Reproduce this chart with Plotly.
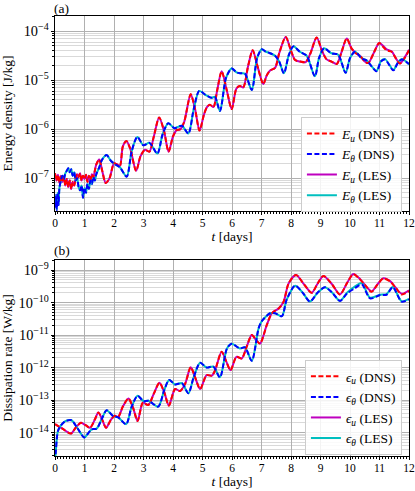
import numpy as np
import plotly.graph_objects as go

# Values, stored as log10 of the quantity
# (a) energy density [J/kg]
t_Eu = [0, 0.05, 0.1, 0.15, 0.2, 0.25, 0.3, 0.35, 0.4, 0.45, 0.5, 0.55, 0.6, 0.65, 0.7, 0.75, 0.8, 0.85, 0.9, 0.95,
        1.0, 1.05, 1.1, 1.15, 1.2, 1.25, 1.3, 1.35, 1.4, 1.5, 1.6, 1.72, 1.85, 2.0, 2.1, 2.2, 2.3, 2.42, 2.55, 2.75,
        2.9, 3.05, 3.2, 3.35, 3.53, 3.7, 3.85, 4.0, 4.12, 4.25, 4.38, 4.6, 4.75, 4.9, 5.05, 5.15, 5.25, 5.37, 5.5, 5.65,
        5.82, 5.99, 6.15, 6.27, 6.38, 6.55, 6.7, 6.88, 7.06, 7.18, 7.3, 7.46, 7.6, 7.82, 8.0, 8.14, 8.31, 8.5, 8.66, 8.87,
        9.05, 9.2, 9.37, 9.55, 9.7, 9.89, 10.05, 10.2, 10.34, 10.5, 10.62, 10.8, 10.99, 11.12, 11.24, 11.41, 11.55, 11.69,
        11.85, 12.0]
Eu_dns = [-6.90, -7.05, -6.93, -7.10, -6.95, -7.08, -6.97, -7.15, -7.02, -7.18, -7.05, -7.22, -7.08, -7.15, -7.00,
          -6.92, -6.98, -6.90, -7.05, -6.95, -7.02, -6.93, -7.08, -6.95, -7.05, -6.92, -6.98, -6.85, -6.72, -6.62,
          -6.85, -7.10, -7.00, -6.70, -6.72, -6.75, -6.35, -6.24, -6.40, -6.85, -6.55, -6.42, -6.46, -6.15, -5.76,
          -6.05, -6.46, -6.15, -6.02, -6.00, -5.85, -5.29, -5.60, -6.03, -5.70, -5.55, -5.50, -5.55, -5.20, -4.82,
          -5.20, -5.59, -5.17, -5.12, -5.15, -4.70, -4.39, -4.75, -5.08, -4.90, -4.80, -4.75, -4.45, -4.12, -4.40,
          -4.59, -4.62, -4.63, -4.45, -4.13, -4.40, -4.57, -4.62, -4.67, -4.45, -4.15, -4.35, -4.45, -4.50, -4.62,
          -4.65, -4.45, -4.24, -4.32, -4.39, -4.42, -4.55, -4.66, -4.55, -4.39]
Eu_les = [-6.90, -7.05, -6.93, -7.10, -6.95, -7.08, -6.97, -7.15, -7.02, -7.18, -7.05, -7.22, -7.08, -7.15, -7.00,
          -6.92, -6.98, -6.90, -7.05, -6.95, -7.02, -6.93, -7.08, -6.95, -7.05, -6.92, -6.98, -6.85, -6.72, -6.62,
          -6.85, -7.10, -7.00, -6.70, -6.72, -6.75, -6.35, -6.24, -6.40, -6.85, -6.55, -6.42, -6.46, -6.15, -5.76,
          -6.05, -6.46, -6.15, -6.02, -6.00, -5.85, -5.29, -5.60, -6.03, -5.70, -5.55, -5.50, -5.55, -5.20, -4.82,
          -5.20, -5.59, -5.17, -5.12, -5.15, -4.70, -4.39, -4.75, -5.08, -4.90, -4.80, -4.75, -4.45, -4.12, -4.40,
          -4.59, -4.62, -4.63, -4.45, -4.13, -4.40, -4.57, -4.62, -4.67, -4.45, -4.15, -4.35, -4.45, -4.50, -4.62,
          -4.65, -4.45, -4.24, -4.30, -4.37, -4.41, -4.55, -4.66, -4.54, -4.38]

t_Et = [0, 0.03, 0.06, 0.09, 0.12, 0.15, 0.2, 0.25, 0.3, 0.35, 0.4, 0.45, 0.5, 0.55, 0.6, 0.65, 0.7, 0.75, 0.8, 0.85,
        0.9, 0.95, 1.0, 1.05, 1.1, 1.15, 1.2, 1.25, 1.3, 1.35, 1.4, 1.5, 1.6, 1.75, 1.9, 2.05, 2.2, 2.43, 2.6, 2.79,
        3.0, 3.2, 3.47, 3.65, 3.84, 4.05, 4.3, 4.52, 4.7, 4.89, 5.1, 5.31, 5.42, 5.59, 5.8, 5.99, 6.15, 6.3, 6.44, 6.67,
        6.85, 7.01, 7.15, 7.29, 7.46, 7.6, 7.76, 7.92, 8.08, 8.3, 8.53, 8.81, 8.95, 9.12, 9.37, 9.6, 9.85, 10.0, 10.17,
        10.4, 10.57, 10.9, 11.05, 11.19, 11.47, 11.62, 11.76, 12.0]
Et_dns = [-7.60, -7.35, -7.65, -7.30, -7.55, -7.20, -7.05, -6.95, -7.02, -6.90, -6.85, -6.80, -6.88, -6.82, -6.95,
          -6.88, -7.05, -7.00, -7.18, -7.25, -7.15, -7.40, -7.20, -7.30, -7.12, -7.22, -7.05, -7.12, -6.98, -7.05,
          -6.92, -6.78, -6.62, -6.53, -6.65, -6.72, -6.78, -6.97, -6.45, -6.16, -6.33, -6.28, -6.50, -6.10, -5.88,
          -5.98, -5.93, -6.09, -5.60, -5.22, -5.30, -5.36, -5.34, -5.63, -4.95, -4.76, -4.84, -4.86, -4.87, -5.20,
          -4.55, -4.37, -4.42, -4.45, -4.50, -4.62, -4.86, -4.50, -4.31, -4.42, -4.50, -4.92, -4.55, -4.35, -4.45,
          -4.48, -4.85, -4.55, -4.42, -4.56, -4.60, -4.82, -4.62, -4.58, -4.80, -4.65, -4.58, -4.67]
Et_les = [-7.60, -7.35, -7.65, -7.30, -7.55, -7.20, -7.05, -6.95, -7.02, -6.90, -6.85, -6.80, -6.88, -6.82, -6.95,
          -6.88, -7.05, -7.00, -7.18, -7.25, -7.15, -7.40, -7.20, -7.30, -7.12, -7.22, -7.05, -7.12, -6.98, -7.05,
          -6.92, -6.78, -6.62, -6.53, -6.65, -6.72, -6.78, -6.97, -6.45, -6.16, -6.33, -6.28, -6.50, -6.10, -5.88,
          -5.98, -5.93, -6.09, -5.60, -5.22, -5.30, -5.36, -5.34, -5.63, -4.95, -4.76, -4.84, -4.86, -4.87, -5.20,
          -4.55, -4.37, -4.42, -4.45, -4.50, -4.62, -4.86, -4.50, -4.31, -4.42, -4.50, -4.92, -4.55, -4.35, -4.45,
          -4.48, -4.85, -4.55, -4.42, -4.55, -4.60, -4.81, -4.61, -4.57, -4.79, -4.64, -4.57, -4.68]

# (b) dissipation rate [W/kg]
t_eu = [0, 0.25, 0.54, 0.7, 0.88, 1.05, 1.19, 1.35, 1.47, 1.6, 1.73, 1.9, 2.03, 2.14, 2.3, 2.49, 2.65, 2.8, 2.98, 3.16,
        3.35, 3.54, 3.7, 3.86, 4.07, 4.24, 4.41, 4.6, 4.75, 4.92, 5.14, 5.31, 5.42, 5.65, 5.8, 5.95, 6.15, 6.33, 6.5,
        6.67, 6.84, 6.95, 7.18, 7.35, 7.58, 7.75, 7.92, 8.17, 8.45, 8.7, 8.9, 9.1, 9.4, 9.66, 9.9, 10.11, 10.3, 10.5,
        10.73, 10.93, 11.13, 11.36, 11.55, 11.75, 12.0]
eu_dns = [-13.74, -13.88, -14.03, -13.85, -13.70, -13.78, -13.85, -13.60, -13.38, -13.60, -13.85, -13.60, -13.48,
          -13.52, -13.20, -12.95, -13.25, -13.64, -13.08, -13.15, -12.80, -12.47, -12.75, -13.17, -12.66, -12.72,
          -12.50, -11.99, -12.30, -12.66, -12.23, -12.25, -12.10, -11.51, -11.80, -12.08, -11.67, -11.72, -11.35,
          -11.00, -11.18, -11.26, -10.69, -10.33, -10.18, -9.97, -9.41, -9.15, -9.45, -9.70, -9.42, -9.18, -9.45,
          -9.75, -9.40, -9.13, -9.25, -9.45, -9.67, -9.45, -9.26, -9.35, -9.55, -9.75, -9.65]
eu_les = [-13.74, -13.88, -14.03, -13.85, -13.70, -13.78, -13.85, -13.60, -13.38, -13.60, -13.85, -13.60, -13.48,
          -13.52, -13.20, -12.95, -13.25, -13.64, -13.08, -13.15, -12.80, -12.47, -12.75, -13.17, -12.66, -12.72,
          -12.50, -11.99, -12.30, -12.66, -12.23, -12.25, -12.10, -11.51, -11.80, -12.08, -11.67, -11.72, -11.35,
          -11.00, -11.18, -11.26, -10.69, -10.33, -10.18, -9.97, -9.41, -9.15, -9.45, -9.70, -9.42, -9.18, -9.45,
          -9.75, -9.40, -9.12, -9.24, -9.45, -9.66, -9.44, -9.25, -9.34, -9.54, -9.73, -9.62]

t_et = [0, 0.03, 0.06, 0.1, 0.2, 0.35, 0.56, 0.75, 0.99, 1.1, 1.24, 1.41, 1.6, 1.75, 1.98, 2.14, 2.41, 2.6, 2.8, 3.0,
        3.17, 3.5, 3.7, 3.87, 4.07, 4.3, 4.52, 4.7, 4.92, 5.14, 5.37, 5.59, 5.83, 5.99, 6.27, 6.44, 6.67, 6.9, 7.01,
        7.29, 7.46, 7.69, 7.85, 8.14, 8.4, 8.64, 8.9, 9.15, 9.4, 9.66, 9.9, 10.15, 10.4, 10.68, 11.02, 11.24, 11.45,
        11.75, 12.0]
et_dns = [-14.90, -14.55, -14.20, -13.95, -13.78, -13.65, -13.62, -13.85, -14.15, -14.05, -13.90, -13.88, -13.55,
          -13.31, -13.50, -13.53, -13.74, -13.20, -12.87, -13.03, -13.02, -13.20, -12.70, -12.38, -12.52, -12.48,
          -12.79, -12.30, -11.85, -12.00, -11.97, -12.30, -11.41, -11.27, -11.41, -11.38, -11.79, -10.80, -10.57,
          -10.33, -10.33, -10.42, -9.92, -9.48, -9.70, -9.97, -9.70, -9.53, -9.70, -9.95, -9.72, -9.57, -9.44,
          -9.87, -9.77, -9.76, -9.53, -9.97, -9.90]
et_les = [-14.90, -14.55, -14.20, -13.95, -13.78, -13.65, -13.62, -13.85, -14.15, -14.05, -13.90, -13.88, -13.55,
          -13.31, -13.50, -13.53, -13.74, -13.20, -12.87, -13.03, -13.02, -13.20, -12.70, -12.38, -12.52, -12.48,
          -12.79, -12.30, -11.85, -12.00, -11.97, -12.30, -11.41, -11.27, -11.41, -11.38, -11.79, -10.80, -10.57,
          -10.33, -10.33, -10.42, -9.92, -9.48, -9.70, -9.97, -9.70, -9.53, -9.70, -9.95, -9.70, -9.52, -9.40,
          -9.85, -9.76, -9.74, -9.52, -9.96, -9.89]

FONT = "Liberation Serif"
DASH = "5px,2.5px"

fig = go.Figure()

# LES first so the dashed DNS lines sit on top
panels = [
    ("x", "y", "legend", [
        ("<i>E<sub>u</sub></i> (LES)", t_Eu, Eu_les, "#bf00bf", "solid", 3),
        ("<i>E<sub>θ</sub></i> (LES)", t_Et, Et_les, "#00bfbf", "solid", 4),
        ("<i>E<sub>u</sub></i> (DNS)", t_Eu, Eu_dns, "#ff0000", DASH, 1),
        ("<i>E<sub>θ</sub></i> (DNS)", t_Et, Et_dns, "#0000ff", DASH, 2),
    ]),
    ("x2", "y2", "legend2", [
        ("<i>ϵ<sub>u</sub></i> (LES)", t_eu, eu_les, "#bf00bf", "solid", 3),
        ("<i>ϵ<sub>θ</sub></i> (LES)", t_et, et_les, "#00bfbf", "solid", 4),
        ("<i>ϵ<sub>u</sub></i> (DNS)", t_eu, eu_dns, "#ff0000", DASH, 1),
        ("<i>ϵ<sub>θ</sub></i> (DNS)", t_et, et_dns, "#0000ff", DASH, 2),
    ]),
]

for xa, ya, leg, series in panels:
    for name, t, v, color, dash, rank in series:
        fig.add_trace(go.Scatter(
            x=t, y=np.power(10.0, v), mode="lines", name=name,
            line=dict(color=color, width=2, dash=dash, shape="spline", smoothing=0.8),
            xaxis=xa, yaxis=ya, legend=leg, legendrank=rank,
        ))

xcommon = dict(
    range=[0, 12], tick0=0, dtick=1, showgrid=True, gridcolor="#b0b0b0", gridwidth=1,
    showline=True, mirror=True, linecolor="black", linewidth=1, automargin=False,
    ticks="outside", ticklen=3, tickcolor="black", zeroline=False, ticklabelstandoff=-2,
    minor=dict(dtick=0.1, ticks="outside", ticklen=2, tickcolor="black", showgrid=False),
    tickfont=dict(family=FONT, size=11.5, color="black"),
    title=dict(text="<i>t</i> [days]", font=dict(family=FONT, size=13.5, color="black"), standoff=2),
)
ycommon = dict(
    type="log", dtick=1, exponentformat="power", showexponent="all",
    showgrid=True, gridcolor="#b0b0b0", gridwidth=1, automargin=False,
    showline=True, mirror=True, linecolor="black", linewidth=1,
    ticks="outside", ticklen=3, tickcolor="black", zeroline=False,
    minor=dict(dtick="D1", ticks="outside", ticklen=2, tickcolor="black", showgrid=True,
               gridcolor="#d9d9d9", gridwidth=1),
    tickfont=dict(family=FONT, size=11.5, color="black"),
)

legcommon = dict(
    bgcolor="rgba(255,255,255,0.85)", bordercolor="#cccccc", borderwidth=1,
    font=dict(family=FONT, size=13.5, color="black"),
    xanchor="right", yanchor="top", x=0.98, tracegroupgap=0, itemwidth=30,
)

fig.update_layout(
    width=415, height=491,
    margin=dict(l=55, r=6, t=16, b=35),
    plot_bgcolor="white", paper_bgcolor="white",
    font=dict(family=FONT, size=12, color="black"),
    xaxis=dict(domain=[0, 1], anchor="y", **xcommon),
    yaxis=dict(domain=[0.557, 1], anchor="x", range=[-7.67, -3.69],
               title=dict(text="Energy density [J/kg]", font=dict(family=FONT, size=13.5, color="black"),
                          standoff=10),
               **ycommon),
    xaxis2=dict(domain=[0, 1], anchor="y2", **xcommon),
    yaxis2=dict(domain=[0, 0.4455], anchor="x2", range=[-14.72, -8.69],
                title=dict(text="Dissipation rate [W/kg]", font=dict(family=FONT, size=13.5, color="black"),
                           standoff=10),
                **ycommon),
    legend=dict(y=0.770, **legcommon),
    legend2=dict(y=0.218, **legcommon),
    annotations=[
        dict(text="(a)", xref="paper", yref="paper", x=-0.005, y=1.018, xanchor="left", yanchor="middle",
             showarrow=False, font=dict(family=FONT, size=13.5, color="black"), borderpad=0),
        dict(text="(b)", xref="paper", yref="paper", x=-0.005, y=0.466, xanchor="left", yanchor="middle",
             showarrow=False, font=dict(family=FONT, size=13.5, color="black"), borderpad=0),
    ],
)

# the page body has a default 8px margin; drop it so the figure fills the window
fig.write_html("out.html", config={"displayModeBar": False},
               post_script="document.body.style.margin = '0';")
